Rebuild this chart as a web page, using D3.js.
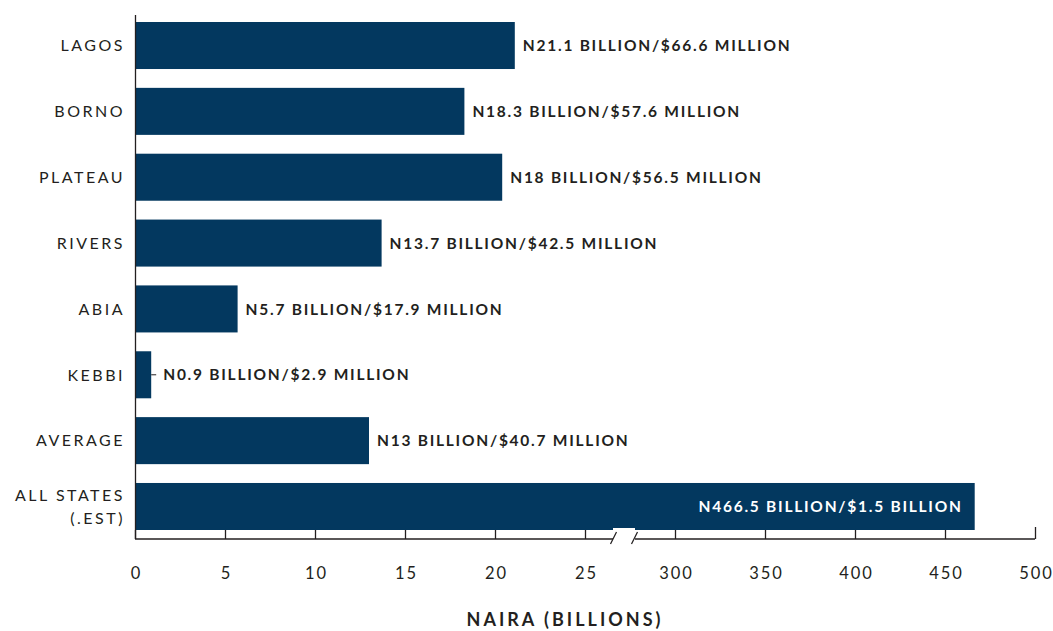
<!DOCTYPE html>
<html lang="en">
<head>
  <meta charset="UTF-8">
  <title>Naira chart</title>
  <style>
    *{ margin:0; padding:0; }
    body{ background:#fff; }
    text{ font-family: Lato, "Open Sans", sans-serif; }
  </style>
  <script src="https://cdn.jsdelivr.net/npm/d3@7"></script>
</head>
<body>
  <svg id="mainsvg"></svg>
  <script>
    const width = 1053, height = 631;
    // data
    const states = ['LAGOS','BORNO','PLATEAU','RIVERS','ABIA','KEBBI','AVERAGE','ALL STATES|(.EST)'];
    const values = [21.1, 18.3, 20.4, 13.7, 5.7, 0.9, 13, 466.5];
    const labels = ['N21.1 BILLION/$66.6 MILLION','N18.3 BILLION/$57.6 MILLION','N18 BILLION/$56.5 MILLION',
      'N13.7 BILLION/$42.5 MILLION','N5.7 BILLION/$17.9 MILLION','N0.9 BILLION/$2.9 MILLION',
      'N13 BILLION/$40.7 MILLION','N466.5 BILLION/$1.5 BILLION'];
    const tickVals = [0,5,10,15,20,25,300,350,400,450,500];

    const barColor = '#03385f';
    const ink = '#231f20';

    const svg = d3.select('#mainsvg').attr('width',width).attr('height',height)

    // broken axis: 0-25 then 300-500
    const x = d3.scaleLinear().domain([0,25,300,500]).range([135,585,675,1035])
    const y = d3.scaleBand().domain(states).range([22,530]).paddingInner(0.286).paddingOuter(0)
    const axisY = 539

    // bars
    svg.append('g').selectAll('rect').data(states).join('rect')
      .attr('x', x(0))
      .attr('y', d => y(d))
      .attr('width', (d,i) => x(values[i]) - x(0))
      .attr('height', y.bandwidth())
      .attr('fill', barColor)

    // value labels
    const lab = svg.append('g')
    states.forEach((s,i) => {
      const end = x(values[i])
      const cy = y(s) + y.bandwidth()/2
      const inside = values[i] > 100
      let tx = end + 8
      if (end - x(0) < 30) {
        lab.append('line').attr('x1', end).attr('x2', end+5).attr('y1', cy).attr('y2', cy)
          .attr('stroke', ink).attr('stroke-width', 1)
        tx = end + 12
      }
      lab.append('text')
        .attr('x', inside ? end - 12 : tx)
        .attr('y', cy)
        .attr('dy', '0.36em')
        .attr('text-anchor', inside ? 'end' : 'start')
        .attr('fill', inside ? '#fff' : ink)
        .style('font-size','15.5px').style('font-weight','bold').style('letter-spacing','1.75px')
        .text(labels[i])
    })

    // category labels
    const cat = svg.append('g')
    states.forEach(s => {
      const parts = s.split('|')
      const cy = y(s) + y.bandwidth()/2
      const t = cat.append('text')
        .attr('text-anchor','end')
        .attr('fill', ink)
        .style('font-size','16px').style('letter-spacing','2.5px')
      parts.forEach((p,k) => {
        t.append('tspan').attr('x', 125).attr('y', cy + (k - (parts.length-1)/2)*23).attr('dy','0.36em').text(p)
      })
    })

    // y axis line
    svg.append('line').attr('x1',135.5).attr('x2',135.5).attr('y1',15).attr('y2',axisY)
      .attr('stroke',ink).attr('stroke-width',1.3)

    // x axis
    const xAxis = d3.axisBottom(x).tickValues(tickVals).tickSize(-9).tickPadding(28).tickFormat(d3.format('d'))
    const gx = svg.append('g').attr('transform',`translate(0,${axisY})`).call(xAxis)
    gx.select('.domain').remove()
    gx.append('line').attr('x1',135).attr('x2',1035).attr('stroke',ink).attr('stroke-width',1.3)
    gx.selectAll('.tick line').attr('stroke',ink).attr('stroke-width',1.3)
    gx.selectAll('.tick').filter(d => d === 500).select('line').attr('y2',-12)
    gx.selectAll('.tick text').attr('fill',ink).attr('dx','1px')
      .style('font-family','Lato, "Open Sans", sans-serif').style('font-size','16.5px').style('letter-spacing','2px')

    // axis break
    svg.append('rect').attr('x',613).attr('y',528).attr('width',22).attr('height',14).attr('fill','#fff')
    ;[[610.5,616.5],[631.5,637.5]].forEach(([a,b]) => {
      svg.append('line').attr('x1',a).attr('y1',544).attr('x2',b).attr('y2',532)
        .attr('stroke',ink).attr('stroke-width',1.2)
    })

    // axis title
    svg.append('text').attr('x',565).attr('y',626).attr('text-anchor','middle')
      .attr('fill',ink).style('font-size','18px').style('font-weight','bold').style('letter-spacing','3px')
      .text('NAIRA (BILLIONS)')
  </script>
</body>
</html>
